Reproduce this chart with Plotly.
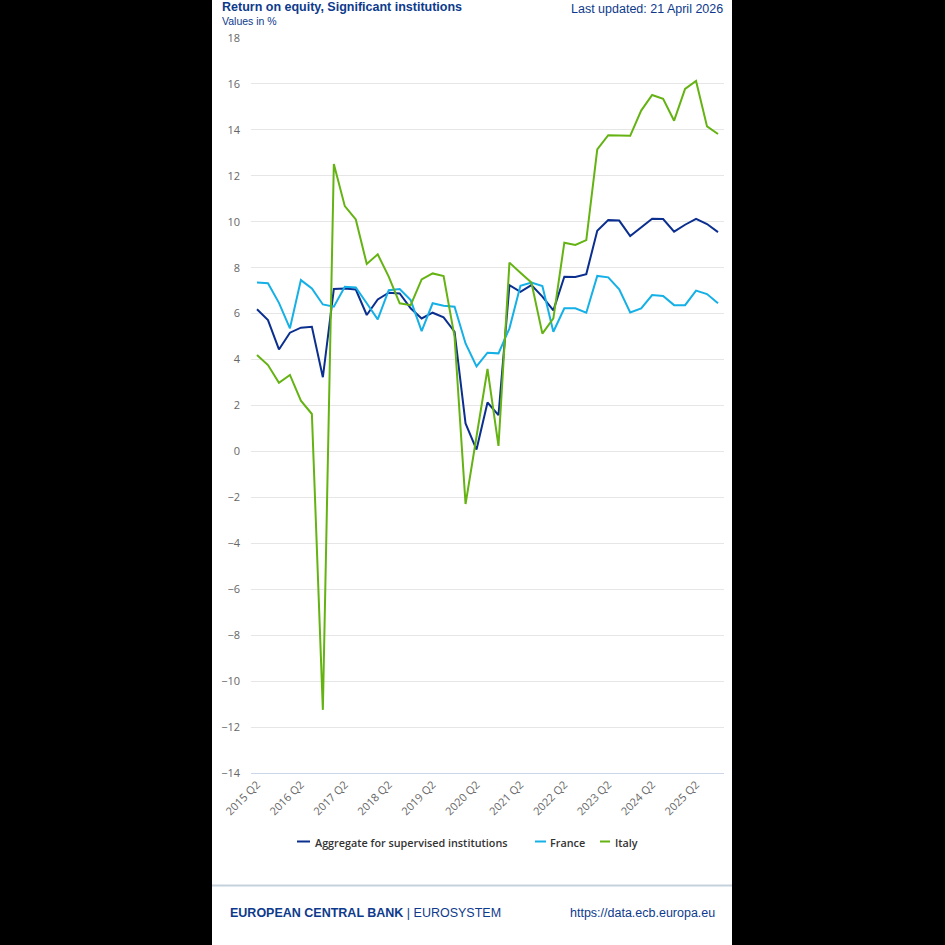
import plotly.graph_objects as go

# ---------------- data ----------------
periods = [f"{y} Q{q}" for y in range(2015, 2026) for q in (1, 2, 3, 4)][1:]  # 2015 Q2 .. 2025 Q4
tick_labels = [f"{y} Q2" for y in range(2015, 2026)]

aggregate = [6.19, 5.72, 4.44, 5.17, 5.39, 5.43, 3.23, 7.07, 7.09, 7.05,
             5.94, 6.62, 6.91, 6.88, 6.23, 5.79, 6.04, 5.84, 5.21, 1.22,
             0.08, 2.13, 1.58, 7.24, 6.95, 7.24, 6.74, 6.14, 7.61, 7.60,
             7.72, 9.61, 10.07, 10.05, 9.38, 9.76, 10.13, 10.12, 9.57, 9.87,
             10.13, 9.90, 9.55]
france = [7.35, 7.32, 6.47, 5.36, 7.46, 7.10, 6.40, 6.30, 7.17, 7.14,
          6.45, 5.75, 7.02, 7.07, 6.59, 5.24, 6.45, 6.34, 6.30, 4.70,
          3.70, 4.30, 4.27, 5.36, 7.21, 7.35, 7.20, 5.21, 6.23, 6.23,
          6.04, 7.64, 7.58, 7.06, 6.05, 6.23, 6.81, 6.77, 6.37, 6.37,
          7.00, 6.85, 6.45]
italy = [4.20, 3.76, 2.99, 3.33, 2.21, 1.63, -11.25, 12.51, 10.68, 10.10,
         8.16, 8.58, 7.61, 6.45, 6.37, 7.49, 7.75, 7.64, 4.99, -2.29,
         0.65, 3.59, 0.24, 8.22, 7.78, 7.35, 5.13, 5.79, 9.09, 8.99,
         9.20, 13.15, 13.77, 13.77, 13.74, 14.84, 15.52, 15.35, 14.40, 15.78,
         16.13, 14.15, 13.82]

series_names = ["Aggregate for supervised institutions", "France", "Italy"]
series_values = [aggregate, france, italy]
series_colors = ["#0b2f8f", "#14b0e6", "#64b313"]

# ---------------- layout geometry (px) ----------------
W, H = 945, 945
PL, PR, PT, PB = 251, 724, 38, 773  # plot area


def px_x(px):
    return (px - PL) / (PR - PL)


def px_y(py):
    return (PB - py) / (PB - PT)


fig = go.Figure()
for name, vals, col in zip(series_names, series_values, series_colors):
    fig.add_trace(go.Scatter(x=periods, y=vals, mode="lines", name=name,
                             line=dict(color=col, width=2), showlegend=False))

ppq = (PR - PL) / 43.09
xr = [-6 / ppq, 42 + 6 / ppq]

fig.update_layout(
    width=W, height=H,
    margin=dict(l=PL, r=W - PR, t=PT, b=H - PB, pad=0),
    paper_bgcolor="#000000", plot_bgcolor="#ffffff",
    showlegend=False,
    xaxis=dict(type="category", range=xr, tickmode="array", tickvals=tick_labels,
               ticktext=tick_labels, tickangle=-45, showgrid=False, zeroline=False,
               showline=True, linecolor="#ccd6eb", linewidth=1, ticks="",
               tickfont=dict(family="Open Sans", size=11, color="#666666")),
    yaxis=dict(range=[-14, 18], dtick=2, tick0=0, showgrid=True, gridcolor="#e6e6e6",
               gridwidth=1, zeroline=False, showline=False, ticks="",
               ticklabelstandoff=10,
               tickfont=dict(family="Open Sans", size=11, color="#666666")),
)

shapes = [
    dict(type="rect", xref="paper", yref="paper", x0=px_x(212), x1=px_x(732),
         y0=px_y(945), y1=px_y(0), fillcolor="#ffffff", line=dict(width=0), layer="below"),
    dict(type="line", xref="paper", yref="paper", x0=px_x(212), x1=px_x(732),
         y0=px_y(885.5), y1=px_y(885.5), line=dict(color="#c5d2dc", width=2)),
]

annotations = [
    dict(text="<b>Return on equity, Significant institutions</b>", x=px_x(220), y=px_y(7),
         font=dict(family="Liberation Sans", size=12.5, color="#0d3a8c")),
    dict(text="Values in %", x=px_x(220), y=px_y(21),
         font=dict(family="Liberation Sans", size=10.5, color="#0d3a8c")),
    dict(text="Last updated: 21 April 2026", x=px_x(725), y=px_y(9), xanchor="right",
         font=dict(family="Liberation Sans", size=12.5, color="#0d3a8c")),
    dict(text="<b>EUROPEAN CENTRAL BANK</b> | EUROSYSTEM", x=px_x(228), y=px_y(913),
         font=dict(family="Liberation Sans", size=12.5, color="#0d3a8c")),
    dict(text="https://data.ecb.europa.eu", x=px_x(717), y=px_y(913), xanchor="right",
         font=dict(family="Liberation Sans", size=12.5, color="#0d3a8c")),
]
for a in annotations:
    a.setdefault("xanchor", "left")
    a.update(xref="paper", yref="paper", yanchor="middle", showarrow=False)

# manual legend
legend_items = [(297, 310, 313), (535, 546, 548), (600, 610, 613)]
for (lx0, lx1, tx), name, col in zip(legend_items, series_names, series_colors):
    shapes.append(dict(type="line", xref="paper", yref="paper", x0=px_x(lx0), x1=px_x(lx1),
                       y0=px_y(841.5), y1=px_y(841.5), line=dict(color=col, width=2)))
    annotations.append(dict(text=name, x=px_x(tx), y=px_y(842), xref="paper", yref="paper",
                            xanchor="left", yanchor="middle", showarrow=False,
                            font=dict(family="Open Sans", size=10.8, color="#333333", weight=600)))

fig.update_layout(shapes=shapes, annotations=annotations)
fig.write_html("out.html")
